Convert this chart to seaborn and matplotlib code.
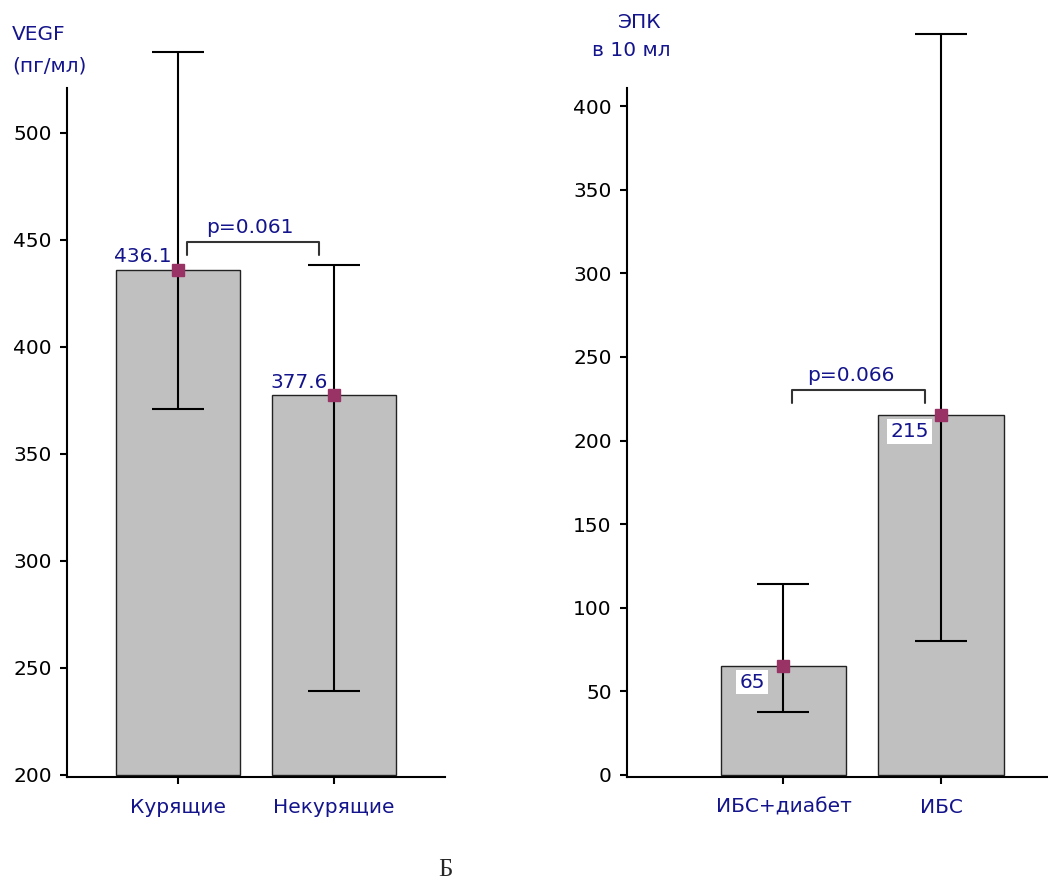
import numpy as np
import pandas as pd
import seaborn as sns
import matplotlib.pyplot as plt

# left panel: VEGF
vegf_groups = ["Курящие", "Некурящие"]
vegf_mean = [436.1, 377.6]
vegf_low = [371.0, 239.0]
vegf_high = [538.0, 438.5]
vegf_labels = ["436.1", "377.6"]
vegf_p = "p=0.061"

# right panel: EPC
epc_groups = ["ИБС+диабет", "ИБС"]
epc_mean = [65, 215]
epc_low = [37.5, 80.0]
epc_high = [114.0, 443.0]
epc_labels = ["65", "215"]
epc_p = "p=0.066"

NAVY = "#14148c"
BAR = "#c0c0c0"
MARK = "#993366"
FS = 14.5

sns.set_theme(style="white")
plt.rcParams['font.family'] = ['DejaVu Sans']

fig = plt.figure(figsize=(10.48, 8.81), dpi=100)
ax1 = fig.add_axes([67/1048, 1-777/881, (445-67)/1048, (777-88)/881])
ax2 = fig.add_axes([627/1048, 1-777/881, (1048-627)/1048, (777-88)/881])


def panel(ax, groups, mean, low, high, base, ylim, yticks, xlim):
    df = pd.DataFrame({"group": groups, "value": mean})
    sns.barplot(data=df, x="group", y="value", color=BAR, edgecolor="#222222",
                linewidth=1.0, width=0.8, saturation=1, ax=ax)
    # bars start at the axis bottom, not at zero
    for p, v in zip(ax.patches, mean):
        p.set_y(base)
        p.set_height(v - base)
    x = np.arange(len(groups))
    m = np.array(mean)
    yerr = [m - np.array(low), np.array(high) - m]
    ax.errorbar(x, m, yerr=yerr, fmt="none", ecolor="black", elinewidth=1.5,
                capsize=19, capthick=1.5, clip_on=False, zorder=3)
    ax.plot(x, m, ls="none", marker="s", ms=8, color=MARK, zorder=4, clip_on=False)
    ax.set_ylim(*ylim)
    ax.set_xlim(*xlim)
    ax.set_yticks(yticks)
    ax.set_xlabel("")
    ax.set_ylabel("")
    for s in ["top", "right"]:
        ax.spines[s].set_visible(False)
    for s in ["left", "bottom"]:
        ax.spines[s].set_color("black")
        ax.spines[s].set_linewidth(1.5)
    ax.tick_params(axis="y", left=True, length=5, width=1.5, color="black",
                   labelsize=FS, pad=6, labelcolor="black")
    ax.tick_params(axis="x", bottom=True, length=5, width=1.5, color="black",
                   labelsize=FS, pad=10, labelcolor=NAVY)


panel(ax1, vegf_groups, vegf_mean, vegf_low, vegf_high, 200, (199, 521),
      np.arange(200, 501, 50), (-0.7115, 1.7115))
panel(ax2, epc_groups, epc_mean, epc_low, epc_high, 0, (-1.2, 410.8),
      np.arange(0, 401, 50), (-0.994, 1.68))

# value labels
for i, (v, t) in enumerate(zip(vegf_mean, vegf_labels)):
    ax1.text(i - 0.04, v + 6, t, ha="right", va="center", color=NAVY, fontsize=FS)
for i, (v, t) in enumerate(zip(epc_mean, epc_labels)):
    ax2.text(i - 0.2, v - 9.5, t, ha="center", va="center", color=NAVY, fontsize=FS,
             bbox=dict(facecolor="white", edgecolor="none", pad=2))

# significance brackets
ax1.plot([0.058, 0.058, 0.904, 0.904], [443, 449, 449, 443], color="#333333", lw=1.5)
ax1.text(0.46, 451.5, vegf_p, ha="center", va="bottom", color=NAVY, fontsize=FS)
ax2.plot([0.057, 0.057, 0.898, 0.898], [222.4, 230.2, 230.2, 222.4], color="#333333", lw=1.5)
ax2.text(0.43, 233, epc_p, ha="center", va="bottom", color=NAVY, fontsize=FS)

# axis titles
fig.text(12/1048, 1-35/881, "VEGF", ha="left", va="center", color=NAVY, fontsize=FS)
fig.text(12/1048, 1-66/881, "(пг/мл)", ha="left", va="center", color=NAVY, fontsize=FS)
fig.text(640/1048, 1-22/881, "ЭПК", ha="center", va="center", color=NAVY, fontsize=FS)
fig.text(631/1048, 1-50/881, "в 10 мл", ha="center", va="center", color=NAVY, fontsize=FS)

fig.text(445/1048, 1-870/881, "Б", ha="center", va="center", fontsize=18,
         family=["Liberation Serif", "DejaVu Serif"])

fig.savefig("out.png", dpi=100)
